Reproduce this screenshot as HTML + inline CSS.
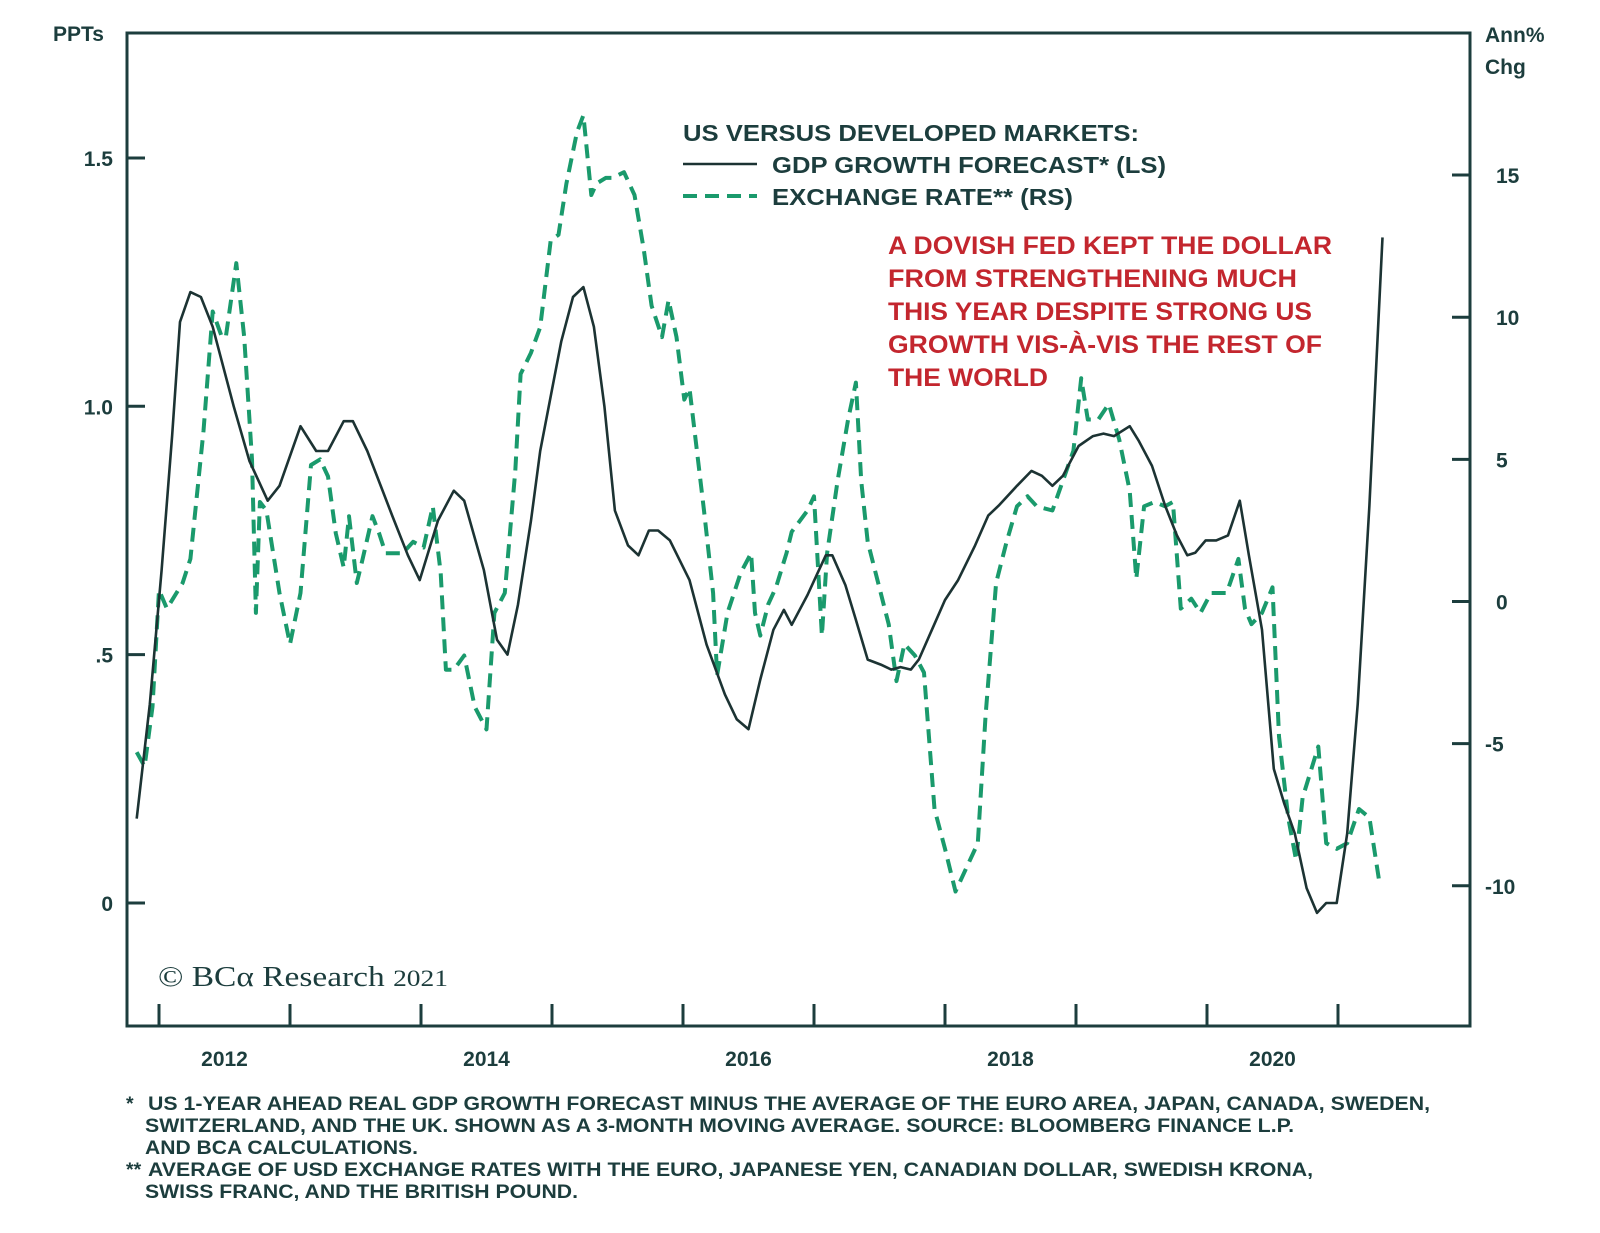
<!DOCTYPE html>
<html><head><meta charset="utf-8"><style>
body{margin:0;background:#fff;}
svg{display:block;font-family:"Liberation Sans",Arial,sans-serif;}
</style></head><body>
<svg id="chart" width="1600" height="1233" viewBox="0 0 1600 1233" xmlns="http://www.w3.org/2000/svg">
<rect width="1600" height="1233" fill="#fff"/>
<g id="grid"></g>
<g id="series"></g>
<rect x="127" y="33" width="1343" height="993" fill="none" stroke="#1c3d3d" stroke-width="3"/>
<g id="axes" font-weight="bold" fill="#1c3d3d" font-size="21"></g>
<text x="53" y="41" font-size="21" font-weight="bold" fill="#1c3d3d">PPTs</text>
<text x="1485" y="42" font-size="21" font-weight="bold" fill="#1c3d3d">Ann%</text>
<text x="1485" y="74" font-size="21" font-weight="bold" fill="#1c3d3d">Chg</text>
<g font-size="23" font-weight="bold" fill="#1c3d3d">
<text x="683" y="141" textLength="456" lengthAdjust="spacingAndGlyphs">US VERSUS DEVELOPED MARKETS:</text>
<line x1="683" y1="164" x2="757" y2="164" stroke="#1c3333" stroke-width="2.5"/>
<text x="772" y="173" textLength="394" lengthAdjust="spacingAndGlyphs">GDP GROWTH FORECAST* (LS)</text>
<line x1="683" y1="196" x2="757" y2="196" stroke="#1a9a6c" stroke-width="4" stroke-dasharray="14,8"/>
<text x="772" y="205" textLength="301" lengthAdjust="spacingAndGlyphs">EXCHANGE RATE** (RS)</text>
</g>
<g font-size="25" font-weight="bold" fill="#c3262e">
<text x="888" y="254" textLength="444" lengthAdjust="spacingAndGlyphs">A DOVISH FED KEPT THE DOLLAR</text>
<text x="888" y="287" textLength="409" lengthAdjust="spacingAndGlyphs">FROM STRENGTHENING MUCH</text>
<text x="888" y="320" textLength="424" lengthAdjust="spacingAndGlyphs">THIS YEAR DESPITE STRONG US</text>
<text x="888" y="353" textLength="434" lengthAdjust="spacingAndGlyphs">GROWTH VIS-À-VIS THE REST OF</text>
<text x="888" y="386" textLength="160" lengthAdjust="spacingAndGlyphs">THE WORLD</text>
</g>
<text x="158" y="986" font-family="'Liberation Serif',serif" font-size="28" fill="#1c3d3d" textLength="290" lengthAdjust="spacingAndGlyphs">© BCα Research <tspan font-size="23">2021</tspan></text>
<g font-size="19.5" font-weight="bold" fill="#1c3d3d">
<text x="126" y="1110">*</text>
<text x="148" y="1110" textLength="1282" lengthAdjust="spacingAndGlyphs">US 1-YEAR AHEAD REAL GDP GROWTH FORECAST MINUS THE AVERAGE OF THE EURO AREA, JAPAN, CANADA, SWEDEN,</text>
<text x="145" y="1132" textLength="1149" lengthAdjust="spacingAndGlyphs">SWITZERLAND, AND THE UK. SHOWN AS A 3-MONTH MOVING AVERAGE. SOURCE: BLOOMBERG FINANCE L.P.</text>
<text x="145" y="1154" textLength="273" lengthAdjust="spacingAndGlyphs">AND BCA CALCULATIONS.</text>
<text x="126" y="1176">**</text>
<text x="148" y="1176" textLength="1165" lengthAdjust="spacingAndGlyphs">AVERAGE OF USD EXCHANGE RATES WITH THE EURO, JAPANESE YEN, CANADIAN DOLLAR, SWEDISH KRONA,</text>
<text x="145" y="1198" textLength="433" lengthAdjust="spacingAndGlyphs">SWISS FRANC, AND THE BRITISH POUND.</text>
</g>
</svg>
<script>
const gdpDates=[2011.83,2011.93,2012.02,2012.10,2012.16,2012.24,2012.32,2012.41,2012.57,2012.69,2012.83,2012.92,2013.08,2013.20,2013.29,2013.41,2013.48,2013.59,2013.78,2013.90,2013.99,2014.13,2014.25,2014.33,2014.48,2014.58,2014.66,2014.74,2014.84,2014.91,2015.07,2015.16,2015.24,2015.32,2015.40,2015.48,2015.58,2015.66,2015.74,2015.81,2015.90,2016.05,2016.18,2016.32,2016.41,2016.50,2016.59,2016.69,2016.77,2016.83,2016.95,2017.02,2017.09,2017.14,2017.24,2017.32,2017.41,2017.51,2017.59,2017.66,2017.74,2017.80,2017.90,2018.00,2018.10,2018.23,2018.33,2018.41,2018.55,2018.66,2018.74,2018.82,2018.90,2019.02,2019.13,2019.21,2019.29,2019.41,2019.48,2019.58,2019.68,2019.77,2019.85,2019.91,2019.99,2020.07,2020.16,2020.25,2020.32,2020.42,2020.51,2020.59,2020.67,2020.76,2020.84,2020.91,2020.99,2021.07,2021.15,2021.24,2021.34];
const gdpValues=[0.17,0.40,0.67,0.94,1.17,1.23,1.22,1.16,1.00,0.89,0.81,0.84,0.96,0.91,0.91,0.97,0.97,0.91,0.78,0.70,0.65,0.77,0.83,0.81,0.67,0.53,0.50,0.60,0.77,0.91,1.13,1.22,1.24,1.16,1.00,0.79,0.72,0.70,0.75,0.75,0.73,0.65,0.52,0.42,0.37,0.35,0.45,0.55,0.59,0.56,0.62,0.66,0.70,0.70,0.64,0.57,0.49,0.48,0.47,0.475,0.47,0.49,0.55,0.61,0.65,0.72,0.78,0.80,0.84,0.87,0.86,0.84,0.86,0.92,0.94,0.945,0.94,0.96,0.93,0.88,0.80,0.74,0.70,0.705,0.73,0.73,0.74,0.81,0.70,0.55,0.27,0.20,0.14,0.03,-0.02,0.00,0.00,0.14,0.40,0.80,1.34];
const fxDates=[2011.83,2011.89,2011.95,2012.00,2012.06,2012.18,2012.24,2012.34,2012.41,2012.48,2012.51,2012.59,2012.65,2012.71,2012.74,2012.77,2012.82,2012.92,2013.00,2013.08,2013.16,2013.23,2013.29,2013.35,2013.41,2013.45,2013.51,2013.55,2013.63,2013.68,2013.73,2013.86,2013.94,2014.02,2014.09,2014.15,2014.19,2014.25,2014.33,2014.41,2014.50,2014.56,2014.64,2014.72,2014.76,2014.84,2014.91,2014.99,2015.05,2015.11,2015.19,2015.24,2015.30,2015.34,2015.41,2015.46,2015.55,2015.63,2015.70,2015.76,2015.84,2015.89,2015.95,2016.01,2016.05,2016.16,2016.23,2016.26,2016.34,2016.44,2016.52,2016.55,2016.59,2016.65,2016.71,2016.79,2016.83,2016.95,2017.00,2017.06,2017.10,2017.18,2017.26,2017.32,2017.36,2017.41,2017.49,2017.57,2017.63,2017.69,2017.77,2017.84,2017.92,2018.00,2018.08,2018.16,2018.25,2018.31,2018.39,2018.47,2018.55,2018.63,2018.70,2018.82,2018.90,2018.98,2019.04,2019.09,2019.17,2019.25,2019.33,2019.41,2019.46,2019.52,2019.60,2019.68,2019.74,2019.80,2019.88,2019.95,2020.03,2020.15,2020.24,2020.29,2020.34,2020.42,2020.50,2020.55,2020.62,2020.68,2020.73,2020.85,2020.91,2020.99,2021.07,2021.16,2021.24,2021.32];
const fxValues=[-5.3,-5.8,-3.7,0.4,-0.25,0.65,1.5,6.0,10.2,9.3,9.3,11.9,9.3,5.0,-0.4,3.5,3.2,0.3,-1.5,0.3,4.8,5.0,4.4,2.4,1.2,3.0,0.65,1.4,3.0,2.4,1.7,1.7,2.1,1.9,3.35,1.0,-2.4,-2.4,-1.9,-3.7,-4.5,-0.4,0.3,4.6,8.0,8.75,9.65,12.7,12.9,14.7,16.5,17.1,14.3,14.7,14.9,14.9,15.1,14.3,12.4,10.4,9.3,10.6,9.3,7.1,7.5,3.2,0.3,-2.6,-0.4,1.0,1.7,-0.4,-1.2,-0.1,0.5,1.7,2.45,3.2,3.7,-1.2,1.7,4.25,6.4,7.7,4.25,2.1,0.65,-0.8,-2.8,-1.5,-1.9,-2.5,-7.3,-8.7,-10.2,-9.4,-8.5,-4.0,0.65,2.1,3.35,3.7,3.35,3.2,4.25,5.3,7.85,6.4,6.4,6.95,5.7,3.9,0.8,3.35,3.5,3.35,3.5,-0.25,0.1,-0.4,0.3,0.3,1.5,-0.25,-0.8,-0.4,0.5,-4.75,-7.6,-9.1,-6.9,-5.1,-8.5,-8.7,-8.5,-7.3,-7.6,-10.0];
const leftTicks=[0,0.5,1.0,1.5];
const leftTickLabels=["0",".5","1.0","1.5"];
const rightTicks=[-10,-5,0,5,10,15];
const rightTickLabels=["-10","-5","0","5","10","15"];
const yearTicks=[2012,2013,2014,2015,2016,2017,2018,2019,2020,2021];
const yearLabels=["2012","2014","2016","2018","2020"];

const NS="http://www.w3.org/2000/svg";
const xS=y=>159+(y-2012)*131;
const yL=v=>903-v*496.7;
const yR=v=>601.5-v*28.43;
function mk(tag,attrs,parent){const e=document.createElementNS(NS,tag);for(const k in attrs)e.setAttribute(k,attrs[k]);parent.appendChild(e);return e;}
const axes=document.getElementById('axes');
const ser=document.getElementById('series');
leftTicks.forEach((v,i)=>{
  const l=mk('line',{x1:127,x2:145,y1:yL(v),y2:yL(v),stroke:'#1c3d3d','stroke-width':3},axes);
  
  
  const t=mk('text',{x:113,y:yL(v)+8,'text-anchor':'end'},axes);
  t.textContent=leftTickLabels[i];
  
  
});
rightTicks.forEach((v,i)=>{
  const l=mk('line',{x1:1452,x2:1470,y1:yR(v),y2:yR(v),stroke:'#1c3d3d','stroke-width':3},axes);
  
  
  const t=mk('text',{x:v<0?1485:1496,y:yR(v)+8},axes);
  t.textContent=rightTickLabels[i];
  
  
});
yearTicks.forEach(y=>{
  const l=mk('line',{x1:xS(y),x2:xS(y),y1:1004,y2:1026,stroke:'#1c3d3d','stroke-width':3},axes);
  
  
});
yearLabels.forEach(s=>{
  const t=mk('text',{x:xS(+s+0.5),y:1066,'text-anchor':'middle'},axes);
  t.textContent=s;
  
  
});
const fxPts=fxDates.map((d,i)=>xS(d).toFixed(1)+','+yR(fxValues[i]).toFixed(1)).join(' ');
const fx=mk('polyline',{points:fxPts,fill:'none',stroke:'#1a9a6c','stroke-width':4,'stroke-dasharray':'14,8','stroke-linejoin':'round'},ser);


const gPts=gdpDates.map((d,i)=>xS(d).toFixed(1)+','+yL(gdpValues[i]).toFixed(1)).join(' ');
const g=mk('polyline',{points:gPts,fill:'none',stroke:'#1c3333','stroke-width':2.6,'stroke-linejoin':'round'},ser);


</script>
</body></html>
